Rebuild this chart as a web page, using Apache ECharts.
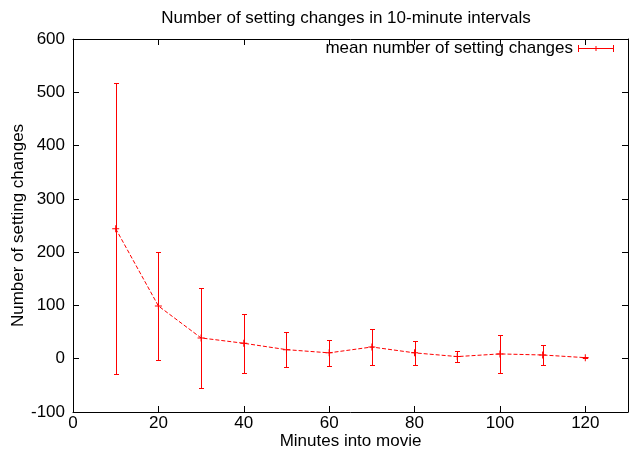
<!DOCTYPE html>
<html>
<head>
<meta charset="utf-8">
<script src="https://cdn.jsdelivr.net/npm/echarts@6/dist/echarts.min.js"></script>
<style>
html,body{margin:0;padding:0;background:#fff;}
#chart{width:634px;height:454px;}
</style>
</head>
<body>
<div id="chart"></div>
<script>
var minutes = [10, 20, 30, 40, 50, 60, 70, 80, 90, 100, 110, 120];
var means   = [244, 99, 39, 29, 17, 11, 22, 11, 4, 9, 7, 2];
var upper   = [517, 200, 133, 83, 50, 35, 56, 34, 15, 44, 26, 3];
var lower   = [-28, -3, -55, -26, -16, -13, -11, -11, -7, -26, -12, 1];
var xTicks = [0, 20, 40, 60, 80, 100, 120];
var yTicks = [-100, 0, 100, 200, 300, 400, 500, 600];
var titleText = 'Number of setting changes in 10-minute intervals';
var xName = 'Minutes into movie';
var yName = 'Number of setting changes';
var seriesName = 'mean number of setting changes';

var FONT = 'Liberation Sans, Arial, Helvetica, sans-serif';
var FS = 17;
var RED = '#ff0000';

var meanData = minutes.map(function (m, i) { return [m, means[i]]; });
var errData = minutes.map(function (m, i) { return [m, lower[i], upper[i]]; });

var chart = echarts.init(document.getElementById('chart'), null, {renderer: 'canvas'});

function axisCommon(extra) {
  var base = {
    type: 'value',
    nameMoveOverlap: false,
    axisLine: {show: true, onZero: false, lineStyle: {color: '#000', width: 1}},
    axisTick: {show: true, inside: true, length: 6, lineStyle: {color: '#000', width: 1}},
    splitLine: {show: false},
    axisLabel: {show: false}
  };
  for (var k in extra) base[k] = extra[k];
  return base;
}

var option = {
  animation: false,
  backgroundColor: '#fff',
  graphic: [{
    type: 'text',
    x: 346,
    y: 10,
    style: {text: titleText, fontSize: FS, fontFamily: FONT, fill: '#000',
            textAlign: 'center', textVerticalAlign: 'top'}
  }],
  legend: {
    show: true,
    right: 15,
    top: 35,
    align: 'right',
    selectedMode: false,
    itemWidth: 36,
    itemHeight: 7,
    textStyle: {fontSize: FS, fontFamily: FONT, color: '#000'},
    data: [{
      name: seriesName,
      icon: 'path://M0,3h36v1h-36z M0,0h1v7h-1z M35,0h1v7h-1z M17.5,1h1v5h-1z',
      itemStyle: {color: RED}
    }]
  },
  grid: {left: 73, right: 6, top: 39, bottom: 42, containLabel: false, outerBoundsMode: 'none'},
  xAxis: [
    axisCommon({
      min: 0, max: 130, interval: 20, position: 'bottom',
      name: xName, nameLocation: 'middle', nameGap: 21,
      nameTextStyle: {fontSize: FS, fontFamily: FONT, color: '#000'},
      axisLabel: {
        show: true, fontSize: FS, fontFamily: FONT, color: '#000', margin: 3,
        formatter: function (v) { return xTicks.indexOf(v) >= 0 ? String(v) : ''; }
      }
    }),
    axisCommon({min: 0, max: 130, interval: 20, position: 'top'})
  ],
  yAxis: [
    axisCommon({
      min: -100, max: 600, interval: 100, position: 'left',
      name: yName, nameLocation: 'middle', nameGap: 46,
      nameTextStyle: {fontSize: FS, fontFamily: FONT, color: '#000'},
      axisLabel: {
        show: true, fontSize: FS, fontFamily: FONT, color: '#000', margin: 8,
        formatter: function (v) { return yTicks.indexOf(v) >= 0 ? String(v) : ''; }
      }
    }),
    axisCommon({min: -100, max: 600, interval: 100, position: 'right'})
  ],
  series: [
    {
      name: 'errorbars',
      type: 'custom',
      xAxisIndex: 0, yAxisIndex: 0,
      data: errData,
      z: 3,
      itemStyle: {color: RED},
      renderItem: function (params, api) {
        var x = api.value(0);
        var lo = api.coord([x, api.value(1)]);
        var hi = api.coord([x, api.value(2)]);
        var px = Math.round(lo[0]) + 0.5;
        var ylo = Math.round(lo[1]) + 0.5;
        var yhi = Math.round(hi[1]) + 0.5;
        var w = 2.5;
        var d = 'M' + px + ',' + yhi + 'L' + px + ',' + ylo +
                'M' + (px - w) + ',' + yhi + 'L' + (px + w) + ',' + yhi +
                'M' + (px - w) + ',' + ylo + 'L' + (px + w) + ',' + ylo;
        return {
          type: 'path',
          shape: {pathData: d},
          style: {stroke: RED, fill: 'none', lineWidth: 1}
        };
      }
    },
    {
      name: seriesName,
      type: 'line',
      xAxisIndex: 0, yAxisIndex: 0,
      data: meanData,
      z: 4,
      color: RED,
      lineStyle: {color: RED, width: 1, type: [4, 2]},
      symbol: 'path://M3,0h1v7h-1z M0,3h7v1h-7z',
      symbolSize: 7,
      itemStyle: {color: RED}
    }
  ]
};
chart.setOption(option);
</script>
</body>
</html>
